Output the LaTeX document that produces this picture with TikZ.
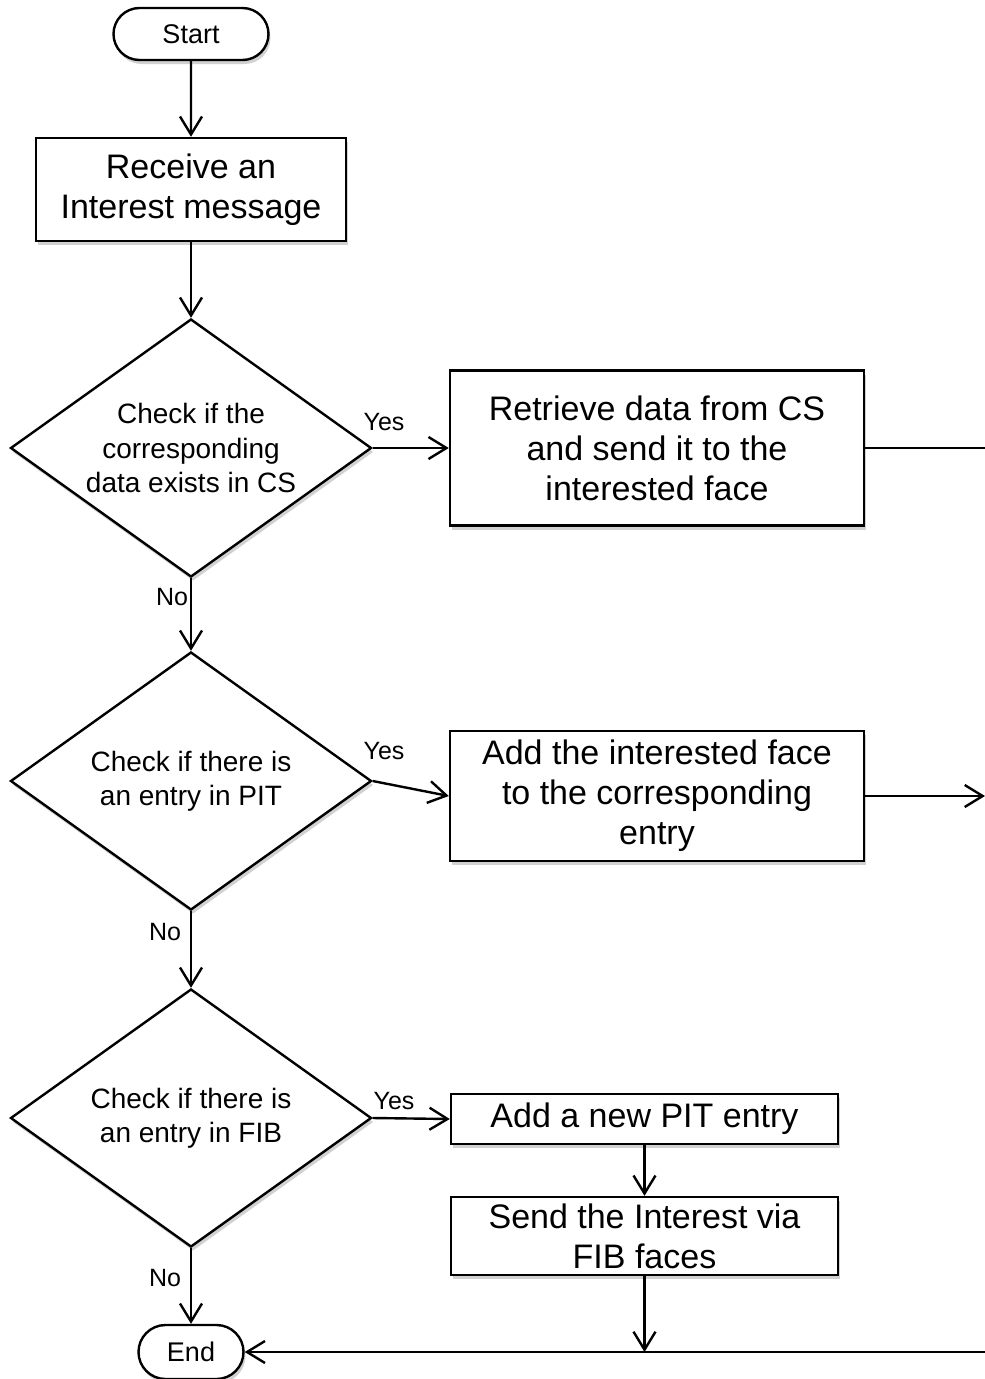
\documentclass[tikz,border=0pt]{standalone}
\usepackage{fontspec}
\setmainfont{Liberation Sans}
\usetikzlibrary{shapes.geometric,shapes.misc,arrows.meta,shadows}

\tikzset{
  base/.style={draw=black, line width=2.4pt, fill=white,
    drop shadow={shadow xshift=2pt, shadow yshift=-4pt, opacity=0.3, fill=black!60}},
  terminal/.style={base, rounded rectangle, minimum height=52pt, inner sep=0pt,
    font=\fontsize{27}{32}\selectfont},
  process/.style={base, rectangle, align=center, inner sep=0pt,
    font=\fontsize{34}{40}\selectfont},
  decision/.style={base, diamond, aspect=1.4, align=center, inner sep=0pt,
    minimum width=361pt, minimum height=258pt, font=\fontsize{28}{34.5}\selectfont},
  link/.style={line width=2.4pt},
  arr/.style={link, -{Straight Barb[length=18pt,width=22pt,line width=2.4pt]}},
  lbl/.style={font=\fontsize{25}{30}\selectfont, inner sep=0pt},
}

\begin{document}
\begin{tikzpicture}[x=1pt,y=-1pt]
    \useasboundingbox (0,0) rectangle (985,1379);
    \def\cx{191};
    % left column %
    \node[terminal, minimum width=155pt] (start) at (\cx,34) {Start};
    \node[process, minimum width=310pt, minimum height=103pt] (recv) at (\cx,189.5) {Receive an\\Interest message};
    \node[decision] (chkcs) at (\cx,448) {Check if the\\corresponding\\data exists in CS};
    \node[decision] (chkpit) at (\cx,781) {Check if there is\\an entry in PIT};
    \node[decision] (chkfib) at (\cx,1118) {Check if there is\\an entry in FIB};
    \node[terminal, minimum width=105pt, minimum height=54pt] (end) at (\cx,1352) {End};
    % right column %
    \node[process, minimum width=414pt, minimum height=155pt] (getcs) at (657,448) {Retrieve data from CS\\and send it to the\\interested face};
    \node[process, minimum width=414pt, minimum height=130pt] (addface) at (657,796) {Add the interested face\\to the corresponding\\entry};
    \node[process, minimum width=387pt, minimum height=50pt] (newpit) at (644.5,1119) {Add a new PIT entry};
    \node[process, minimum width=387pt, minimum height=78pt] (send) at (644.5,1236) {Send the Interest via\\FIB faces};
    % free ends at the right edge %
    \coordinate (out1) at (985,448);
    \coordinate (out2) at (985,796);
    \coordinate (back) at (985,1352);
    \coordinate (down) at (644.5,1352);

    \draw[arr] (start) -- (recv);
    \draw[arr] (recv) -- (chkcs);
    \draw[arr] (chkcs.east) -- (getcs.west);
    \draw[link] (getcs.east) -- (out1);
    \draw[arr] (chkcs.south) -- (chkpit.north);
    \draw[arr] (chkpit.east) -- (addface.west);
    \draw[arr] (addface.east) -- (out2);
    \draw[arr] (chkpit.south) -- (chkfib.north);
    \draw[arr] (chkfib.east) -- (newpit.west);
    \draw[arr] (newpit) -- (send);
    \draw[arr] (send) -- (down);
    \draw[arr] (chkfib.south) -- (end.north);
    \draw[arr] (back) -- (end.east);

    % yes / no labels %
    \node[lbl] (yes1) at (384,422) {Yes};
    \node[lbl] (yes2) at (384,751) {Yes};
    \node[lbl] (yes3) at (394,1101) {Yes};
    \node[lbl] (no1) at (172,597) {No};
    \node[lbl] (no2) at (165,932) {No};
    \node[lbl] (no3) at (165,1278) {No};
\end{tikzpicture}
\end{document}
